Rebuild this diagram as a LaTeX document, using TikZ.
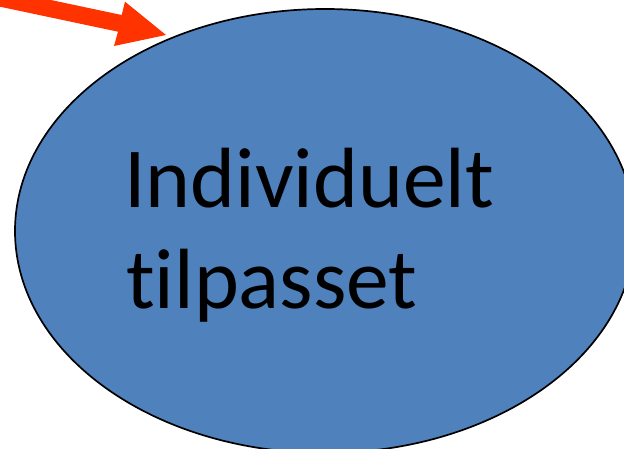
\documentclass[tikz,border=0pt]{standalone}
\usepackage{fontspec}
\setmainfont{Carlito}[Ligatures={NoCommon}]
\usetikzlibrary{shapes.geometric}
\definecolor{ovalblue}{HTML}{4F81BD}
\definecolor{arrowred}{HTML}{FF3300}
\tikzset{
  oval/.style={ellipse, draw=black, line width=1.7pt, fill=ovalblue, inner sep=0pt, minimum width=620pt, minimum height=444pt},
  bigtext/.style={anchor=base west, inner sep=0pt, font=\fontsize{85.5}{100}\selectfont, text=black},
  redarrow/.style={fill=arrowred, draw=none}
}
\begin{document}
\begin{tikzpicture}[x=1pt,y=-1pt]
\useasboundingbox (0,0) rectangle (624,449);
\begin{scope}
\clip (0,0) rectangle (624,449);
\node[oval] (oval) at (325,231) {};
\node[bigtext] (line1) at (124,208) {Individuelt};
\node[bigtext] (line2) at (126,308) {tilpasset};
\coordinate (tip) at (166,35);
\fill[redarrow] (-10,-12.9) -- (121.7,15) -- (125,1.7) -- (tip) -- (114,46) -- (118,31.7) -- (-10,4.6) -- cycle;
\end{scope}
\end{tikzpicture}
\end{document}
